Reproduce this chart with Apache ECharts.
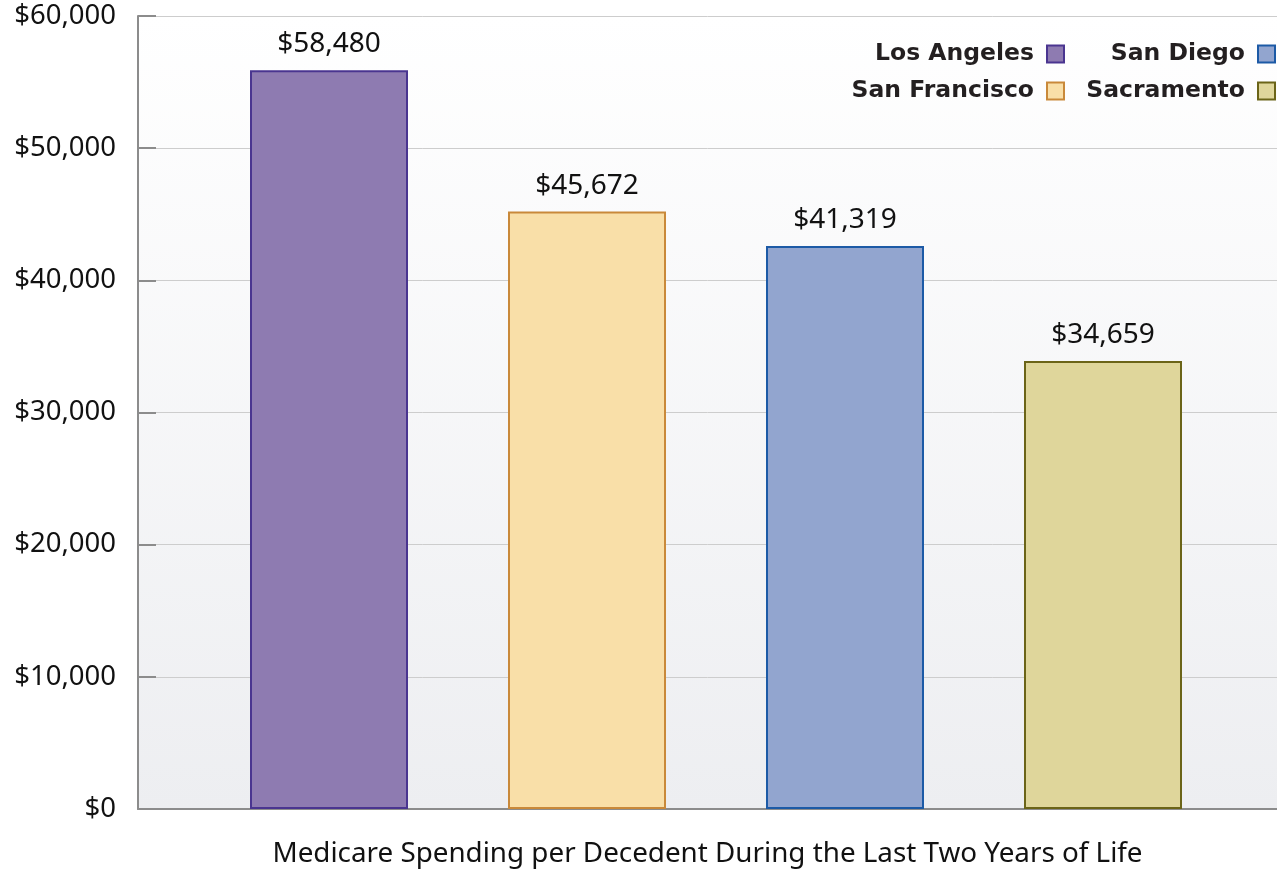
<!DOCTYPE html>
<html>
<head>
<meta charset="utf-8">
<script src="https://cdn.jsdelivr.net/npm/echarts@6/dist/echarts.min.js"></script>
<style>
  html, body { margin: 0; padding: 0; background: #ffffff; }
  #chart { width: 1277px; height: 869px; }
</style>
</head>
<body>
<div id="chart"></div>
<script>
// ---- data ----
var categories = ['Los Angeles', 'San Francisco', 'San Diego', 'Sacramento'];
var barValues = [55900, 45200, 42600, 33900];          // bar heights as drawn
var valueLabels = ['$58,480', '$45,672', '$41,319', '$34,659']; // printed labels
var yTicks = [0, 10000, 20000, 30000, 40000, 50000, 60000];
var axisTitle = 'Medicare Spending per Decedent During the Last Two Years of Life';

// ---- styles ----
var fills = ['#8e7bb1', '#f9dfa8', '#92a5cf', '#dfd69b'];
var borders = ['#4a3590', '#c9893a', '#1c5aa6', '#6b6418'];
var legendRight = [212, 212, 1, 1];
var legendTop = [42, 79, 42, 79];
var font = '"Noto Sans", "Open Sans", sans-serif';

var chart = echarts.init(document.getElementById('chart'), null, { renderer: 'canvas' });

function fmt(v) {
  return '$' + String(v).replace(/\B(?=(\d{3})+(?!\d))/g, ',');
}

var series = categories.map(function (name, i) {
  return {
    name: name,
    type: 'bar',
    xAxisIndex: 1,
    yAxisIndex: 1,
    barWidth: 158,
    barGap: '-100%',
    data: categories.map(function (c, j) { return j === i ? barValues[i] : '-'; }),
    itemStyle: { color: fills[i], borderColor: borders[i], borderWidth: 2 },
    label: {
      show: true,
      position: 'top',
      distance: 12,
      formatter: function () { return valueLabels[i]; },
      fontFamily: font,
      fontSize: 28,
      color: '#111111'
    },
    emphasis: { disabled: true },
    silent: true
  };
});

var legends = categories.map(function (name, i) {
  return {
    data: [name],
    right: legendRight[i],
    top: legendTop[i],
    align: 'right',
    padding: 0,
    itemWidth: 17,
    itemHeight: 17,
    itemGap: 0,
    icon: 'rect',
    selectedMode: false,
    itemStyle: { color: fills[i], borderColor: borders[i], borderWidth: 2 },
    textStyle: {
      fontFamily: '"DejaVu Sans", sans-serif',
      fontWeight: 'bold',
      fontSize: 23.5,
      color: '#231f20',
      padding: [0, 8, 0, 0]
    }
  };
});

var option = {
  backgroundColor: '#ffffff',
  animation: false,
  legend: legends,
  grid: [
    {
      left: 138, right: 0, top: 16, bottom: 60,
      outerBoundsMode: 'none',
      containLabel: false,
      show: true,
      borderWidth: 0,
      backgroundColor: {
        type: 'linear', x: 0, y: 0, x2: 0, y2: 1,
        colorStops: [{ offset: 0, color: '#ffffff' }, { offset: 1, color: '#edeef1' }]
      }
    },
    { left: 200, right: 45, top: 16, bottom: 60, outerBoundsMode: 'none', containLabel: false }
  ],
  xAxis: [
    {
      type: 'category',
      gridIndex: 0,
      data: categories,
      axisLine: { show: true, lineStyle: { color: '#8c8c8c', width: 2 } },
      axisTick: { show: false },
      axisLabel: { show: false },
      splitLine: { show: false },
      name: axisTitle,
      nameLocation: 'middle',
      nameGap: 31,
      nameTextStyle: { fontFamily: font, fontSize: 27.8, color: '#111111' }
    },
    {
      type: 'category',
      gridIndex: 1,
      data: categories,
      show: false
    }
  ],
  yAxis: [
    {
      type: 'value',
      gridIndex: 0,
      min: yTicks[0],
      max: yTicks[yTicks.length - 1],
      interval: yTicks[1] - yTicks[0],
      axisLine: { show: true, lineStyle: { color: '#8c8c8c', width: 2 } },
      axisTick: { show: true, inside: true, length: 18, lineStyle: { color: '#8c8c8c', width: 2 } },
      splitLine: { show: true, lineStyle: { color: '#cdcdcd', width: 1 } },
      axisLabel: {
        margin: 22,
        fontFamily: font,
        fontSize: 27.5,
        color: '#111111',
        formatter: function (v) { return fmt(v); }
      }
    },
    {
      type: 'value',
      gridIndex: 1,
      min: yTicks[0],
      max: yTicks[yTicks.length - 1],
      show: false,
      splitLine: { show: false }
    }
  ],
  series: series
};

chart.setOption(option);
</script>
</body>
</html>
